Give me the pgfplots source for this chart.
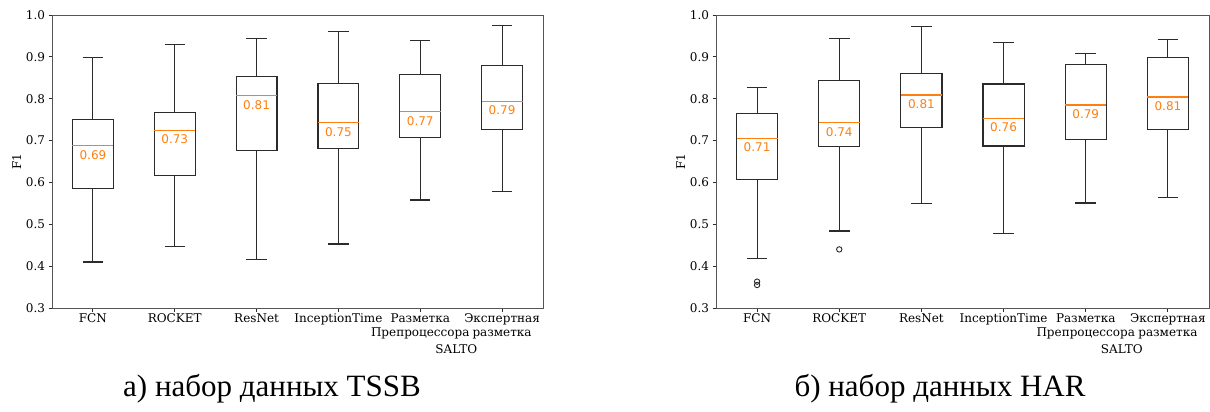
\documentclass[border=0pt]{standalone}
\usepackage{pgfplots}
\pgfplotsset{compat=1.18}
\usepgfplotslibrary{statistics}
\usepackage{fontspec}
\setmainfont{DejaVu Serif}
\newfontfamily\sansf{DejaVu Sans}
\newfontfamily\capf{Liberation Serif}
\definecolor{mplorange}{HTML}{FF7F0E}
\definecolor{boxgray}{HTML}{2B2B2B}
\pgfplotsset{
  mybox/.style={
    scale only axis, width=491pt, height=293pt,
    xmin=0.5, xmax=6.5, ymin=0.3, ymax=1.0,
    xtick={1,...,6},
    ytick={0.3,0.4,...,1.0},
    xtick pos=bottom, ytick pos=left,
    tick align=outside, major tick length=3.5pt,
    tick style={boxgray, line width=0.9pt},
    axis line style={boxgray!80, line width=1pt},
    /pgf/number format/assume math mode=true,
    yticklabel style={/pgf/number format/fixed, /pgf/number format/fixed zerofill, /pgf/number format/precision=1, font=\fontsize{12}{14}\selectfont},
    xticklabel style={align=center, font=\fontsize{12}{14}\selectfont, yshift=1pt},
    xticklabels={FCN, ROCKET, ResNet, InceptionTime, {Разметка\\Препроцессора\\[3pt]\hspace*{72pt}SALTO}, {Экспертная\\разметка}},
    ylabel={F1}, ylabel style={font=\fontsize{12}{14}\selectfont, yshift=-2pt},
    boxplot/draw direction=y,
    boxplot/every median/.style={draw=mplorange, line width=1.1pt},
  },
  bx/.style={boxgray, line width=1.15pt, solid, mark=o, mark size=2.7pt, mark options={boxgray, line width=0.9pt}},
}
\tikzset{mlab/.style={anchor=north, inner sep=0pt, yshift=-4.5pt, text=mplorange, font=\sansf\fontsize{12}{14}\selectfont}}
\begin{document}
\begin{tikzpicture}
\useasboundingbox (0pt,0pt) rectangle (1210pt,-412pt);
% ---------- TSSB ----------
\begin{axis}[mybox, anchor=south west, at={(52pt,-308pt)}]
\addplot[bx, boxplot prepared={draw position=1, median=0.688, upper quartile=0.751, lower quartile=0.586, upper whisker=0.899, lower whisker=0.410, box extend=0.5, whisker extend=0.25}] coordinates {};
\addplot[bx, boxplot prepared={draw position=2, median=0.725, upper quartile=0.768, lower quartile=0.617, upper whisker=0.930, lower whisker=0.446, box extend=0.5, whisker extend=0.25}] coordinates {};
\addplot[bx, boxplot prepared={draw position=3, median=0.807, upper quartile=0.854, lower quartile=0.677, upper whisker=0.944, lower whisker=0.416, box extend=0.5, whisker extend=0.25}] coordinates {};
\addplot[bx, boxplot prepared={draw position=4, median=0.743, upper quartile=0.837, lower quartile=0.681, upper whisker=0.961, lower whisker=0.453, box extend=0.5, whisker extend=0.25}] coordinates {};
\addplot[bx, boxplot prepared={draw position=5, median=0.769, upper quartile=0.858, lower quartile=0.708, upper whisker=0.939, lower whisker=0.558, box extend=0.5, whisker extend=0.25}] coordinates {};
\addplot[bx, boxplot prepared={draw position=6, median=0.794, upper quartile=0.879, lower quartile=0.727, upper whisker=0.975, lower whisker=0.578, box extend=0.5, whisker extend=0.25}] coordinates {};
\node[mlab] at (axis cs:1,0.688) {0.69};
\node[mlab] at (axis cs:2,0.725) {0.73};
\node[mlab] at (axis cs:3,0.807) {0.81};
\node[mlab] at (axis cs:4,0.743) {0.75};
\node[mlab] at (axis cs:5,0.769) {0.77};
\node[mlab] at (axis cs:6,0.794) {0.79};
\end{axis}
% ---------- HAR ----------
\begin{axis}[mybox, width=493pt, anchor=south west, at={(716pt,-308pt)}]
\addplot[bx, boxplot prepared={draw position=1, median=0.706, upper quartile=0.764, lower quartile=0.608, upper whisker=0.827, lower whisker=0.418, box extend=0.5, whisker extend=0.25}] table[row sep=\\, y index=0] {y\\0.363\\0.355\\};
\addplot[bx, boxplot prepared={draw position=2, median=0.743, upper quartile=0.844, lower quartile=0.686, upper whisker=0.944, lower whisker=0.484, box extend=0.5, whisker extend=0.25}] table[row sep=\\, y index=0] {y\\0.440\\};
\addplot[bx, boxplot prepared={draw position=3, median=0.809, upper quartile=0.860, lower quartile=0.731, upper whisker=0.972, lower whisker=0.550, box extend=0.5, whisker extend=0.25}] coordinates {};
\addplot[bx, boxplot prepared={draw position=4, median=0.753, upper quartile=0.835, lower quartile=0.687, upper whisker=0.934, lower whisker=0.477, box extend=0.5, whisker extend=0.25}] coordinates {};
\addplot[bx, boxplot prepared={draw position=5, median=0.785, upper quartile=0.882, lower quartile=0.703, upper whisker=0.909, lower whisker=0.551, box extend=0.5, whisker extend=0.25}] coordinates {};
\addplot[bx, boxplot prepared={draw position=6, median=0.804, upper quartile=0.899, lower quartile=0.726, upper whisker=0.942, lower whisker=0.563, box extend=0.5, whisker extend=0.25}] coordinates {};
\node[mlab] at (axis cs:1,0.706) {0.71};
\node[mlab] at (axis cs:2,0.743) {0.74};
\node[mlab] at (axis cs:3,0.809) {0.81};
\node[mlab] at (axis cs:4,0.753) {0.76};
\node[mlab] at (axis cs:5,0.785) {0.79};
\node[mlab] at (axis cs:6,0.804) {0.81};
\end{axis}
\node[anchor=base, font=\capf\fontsize{31}{36}\selectfont] at (272pt,-396pt) {а) набор данных TSSB};
\node[anchor=base, font=\capf\fontsize{31}{36}\selectfont] at (940pt,-396pt) {б) набор данных HAR};
\end{tikzpicture}
\end{document}
